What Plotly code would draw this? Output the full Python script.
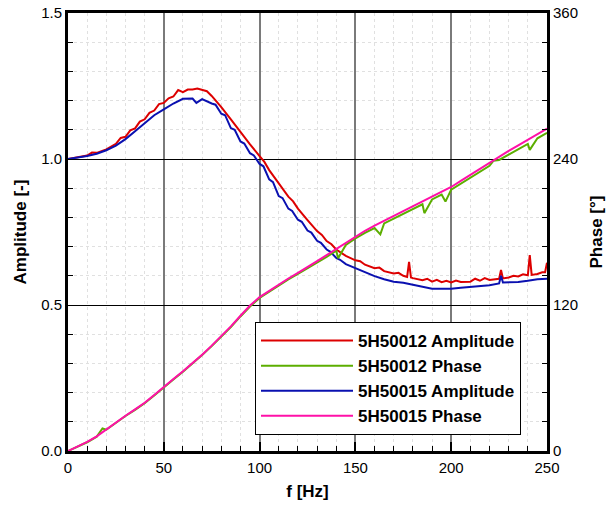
import plotly.graph_objects as go

# ---------------- data ----------------
red_f = [0, 5, 10, 12.5, 15, 20, 25, 27.5, 30, 32.5, 35, 37.5, 40, 42.5, 45, 47.5, 50, 52.5, 55,
         57.5, 60, 62.5, 65, 67.5, 70, 72.5, 75, 80, 85, 90, 95,
         100, 102.5, 105, 110, 115, 117.5, 120, 125, 130, 132.5, 135, 137.5, 140, 145, 150,
         152.5, 155, 160, 162.5, 165, 170, 172.5, 175,
         177, 178, 179, 180, 185, 187.5, 190, 192.5, 195, 197.5, 200, 202.5, 205, 210, 212.5,
         215, 217.5, 220, 225, 226, 227, 230, 232.5, 235, 237.5, 240, 241, 242, 245, 247.5,
         249, 250]
red_amp = [1.000, 1.006, 1.012, 1.022, 1.021, 1.033, 1.052, 1.072, 1.076, 1.098, 1.105, 1.128,
           1.136, 1.158, 1.166, 1.188, 1.192, 1.208, 1.214,
           1.236, 1.229, 1.238, 1.238, 1.241, 1.236, 1.232, 1.216, 1.178, 1.136, 1.091, 1.050,
           1.010, 0.990, 0.962, 0.915, 0.871, 0.855, 0.830, 0.791, 0.753, 0.740, 0.719, 0.708,
           0.690, 0.668, 0.653,
           0.650, 0.638, 0.626, 0.628, 0.616, 0.608, 0.610, 0.600,
           0.596, 0.648, 0.594, 0.592, 0.585, 0.590, 0.580, 0.586, 0.578, 0.583, 0.577, 0.584,
           0.579, 0.580, 0.590,
           0.583, 0.592, 0.586, 0.590, 0.620, 0.591, 0.594, 0.600, 0.598, 0.605, 0.602, 0.671,
           0.603, 0.606, 0.612, 0.612, 0.645]

blue_f = [0, 5, 10, 15, 20, 25, 30, 35, 40, 45, 50, 55, 60, 65, 67, 70, 75, 77, 80, 82, 85, 87,
          90, 92, 95, 97, 100, 102, 105, 107, 110, 112, 115, 117, 120, 122, 125, 127, 130, 132,
          135, 137, 140, 142, 145, 150, 155, 160, 165, 170, 175,
          180, 185, 190, 195, 200, 205, 210, 215, 220, 225, 226, 227, 230, 235, 240, 245, 250]
blue_amp = [1.000, 1.004, 1.010, 1.018, 1.030, 1.046, 1.068, 1.095, 1.124, 1.150, 1.170, 1.190,
            1.206, 1.207, 1.192, 1.205, 1.190, 1.186, 1.155, 1.150, 1.106, 1.100,
            1.060, 1.053, 1.020, 1.012, 0.983, 0.975, 0.930, 0.921, 0.873, 0.866, 0.830, 0.822,
            0.792, 0.785, 0.755, 0.748, 0.720, 0.713, 0.690, 0.682, 0.661, 0.655, 0.640,
            0.626, 0.612, 0.599, 0.588, 0.580, 0.576, 0.570, 0.562, 0.556, 0.556, 0.556, 0.559,
            0.562, 0.565, 0.568, 0.574, 0.600, 0.577, 0.577, 0.579, 0.583, 0.588, 0.590]

green_f = [0, 5, 10, 15, 18, 20, 25, 30, 35, 40, 45, 50, 55, 60, 65, 70, 75, 80, 85, 90, 95,
           100, 105, 110, 115, 120, 125, 130, 135, 140, 141, 145, 150, 155, 160, 163, 165, 170,
           175, 180, 185, 186, 190, 195, 197, 200, 205, 210, 215, 220, 222, 225, 230, 235,
           240, 241, 245, 250]
green_ph = [0, 3.3, 7.2, 11.8, 18.5, 17.5, 23.3, 28.8, 33.8, 39.2, 45.6, 52.6, 58.8, 65.2, 71.8,
            78.8, 86.2, 93.8, 101.8, 110.6, 118.8,
            125.8, 131.0, 136.0, 141.0, 145.5, 150.0, 154.8, 159.6, 164.6, 158.5, 169.4, 174.8,
            179.2, 183.2, 178.0, 187.0, 191.0, 195.0, 199.0, 202.8, 195.5, 206.8, 210.8, 205.0,
            214.8, 219.8, 224.6, 229.6, 234.4, 238.5, 239.2, 243.6, 248.0, 252.4, 247.5, 257.0,
            261.5]

pink_f = [0, 5, 10, 15, 20, 25, 30, 35, 40, 45, 50, 55, 60, 65, 70, 75, 80, 85, 90, 95,
          100, 105, 110, 115, 120, 125, 130, 135, 140, 145, 150, 155, 160, 165, 170, 175,
          180, 185, 190, 195, 200, 205, 210, 215, 220, 225, 230, 235, 240, 245, 250]
pink_ph = [0, 3.5, 7.5, 12.0, 17.8, 23.6, 29.0, 34.2, 39.6, 46.0, 53.0, 59.2, 65.5, 72.2,
           79.2, 86.6, 94.2, 102.4, 111.2, 119.6,
           126.5, 131.8, 136.8, 141.8, 146.4, 151.0, 156.0, 161.0, 166.0, 171.0, 176.5,
           181.0, 185.2, 189.2, 193.2, 197.0, 201.0, 205.0, 209.0, 213.0, 217.0, 222.0,
           227.0, 232.0, 237.0, 242.0, 246.6, 251.2, 255.8, 260.4, 265.0]

series_names = ["5H50012 Amplitude", "5H50012 Phase", "5H50015 Amplitude", "5H50015 Phase"]
series_colors = ["#dd0000", "#5cae00", "#0a10b0", "#ff10a8"]

x_ticks = [0, 50, 100, 150, 200, 250]
y_ticks = [0.0, 0.5, 1.0, 1.5]
y_tick_text = ["0.0", "0.5", "1.0", "1.5"]
y2_ticks = [0, 120, 240, 360]

FONT = "Arial, Liberation Sans, sans-serif"

fig = go.Figure()
fig.add_trace(go.Scatter(x=red_f, y=red_amp, mode="lines", name=series_names[0],
                         line=dict(color=series_colors[0], width=2), yaxis="y"))
fig.add_trace(go.Scatter(x=green_f, y=green_ph, mode="lines", name=series_names[1],
                         line=dict(color=series_colors[1], width=2), yaxis="y2"))
fig.add_trace(go.Scatter(x=blue_f, y=blue_amp, mode="lines", name=series_names[2],
                         line=dict(color=series_colors[2], width=2), yaxis="y"))
fig.add_trace(go.Scatter(x=pink_f, y=pink_ph, mode="lines", name=series_names[3],
                         line=dict(color=series_colors[3], width=2), yaxis="y2"))

fig.update_layout(
    width=606, height=511,
    margin=dict(l=68, r=59, t=13, b=60, autoexpand=False),
    paper_bgcolor="white", plot_bgcolor="white",
    font=dict(family=FONT, size=15, color="black"),
    showlegend=True,
    legend=dict(
        x=0.3904, y=0.2945, xanchor="left", yanchor="top",
        bgcolor="white", bordercolor="black", borderwidth=1,
        font=dict(family=FONT, size=17, color="black", weight="bold"),
        itemwidth=92, tracegroupgap=0,
    ),
    xaxis=dict(
        range=[0, 250], tickvals=x_ticks, ticks="inside", ticklen=9, tickwidth=2,
        tickcolor="black", showline=True, linewidth=3, linecolor="black", mirror=True,
        showgrid=True, gridcolor="#7a7a7a", gridwidth=1.5, zeroline=False, automargin=False,
        minor=dict(dtick=10, ticks="inside", ticklen=5, tickwidth=1, tickcolor="black",
                   showgrid=True, gridcolor="#e0e0e0", griddash="dot", gridwidth=1),
        title=dict(text="<b>f [Hz]</b>", font=dict(size=17), standoff=11),
        tickfont=dict(size=15), ticklabelstandoff=1, ticklabeloverflow="allow",
    ),
    yaxis=dict(
        range=[0, 1.5], tickvals=y_ticks, ticktext=y_tick_text, ticks="inside", ticklen=8,
        tickwidth=1, tickcolor="black", showline=True, linewidth=3, linecolor="black",
        showgrid=True, gridcolor="black", gridwidth=1, zeroline=False, automargin=False,
        minor=dict(dtick=0.1, ticks="inside", ticklen=5, tickwidth=1, tickcolor="black",
                   showgrid=True, gridcolor="#e0e0e0", griddash="dot", gridwidth=1),
        title=dict(text="<b>Amplitude [-]</b>", font=dict(size=17), standoff=11),
        tickfont=dict(size=15), ticklabeloverflow="allow",
    ),
    yaxis2=dict(
        range=[0, 360], tickvals=y2_ticks, overlaying="y", side="right",
        ticks="inside", ticklen=8, tickwidth=1, tickcolor="black", automargin=False,
        showline=True, linewidth=3, linecolor="black", showgrid=False, zeroline=False,
        minor=dict(dtick=24, ticks="inside", ticklen=5, tickwidth=1, tickcolor="black",
                   showgrid=False),
        title=dict(text="<b>Phase [°]</b>", font=dict(size=17), standoff=15),
        tickfont=dict(size=15), ticklabeloverflow="allow",
    ),
)

# remove the browser's default 8 px body margin so the 606x511 figure fills the window;
# hide the mode bar so it never covers the chart
fig.write_html("out.html", config={"displayModeBar": False},
               post_script="document.body.style.margin='0';")
